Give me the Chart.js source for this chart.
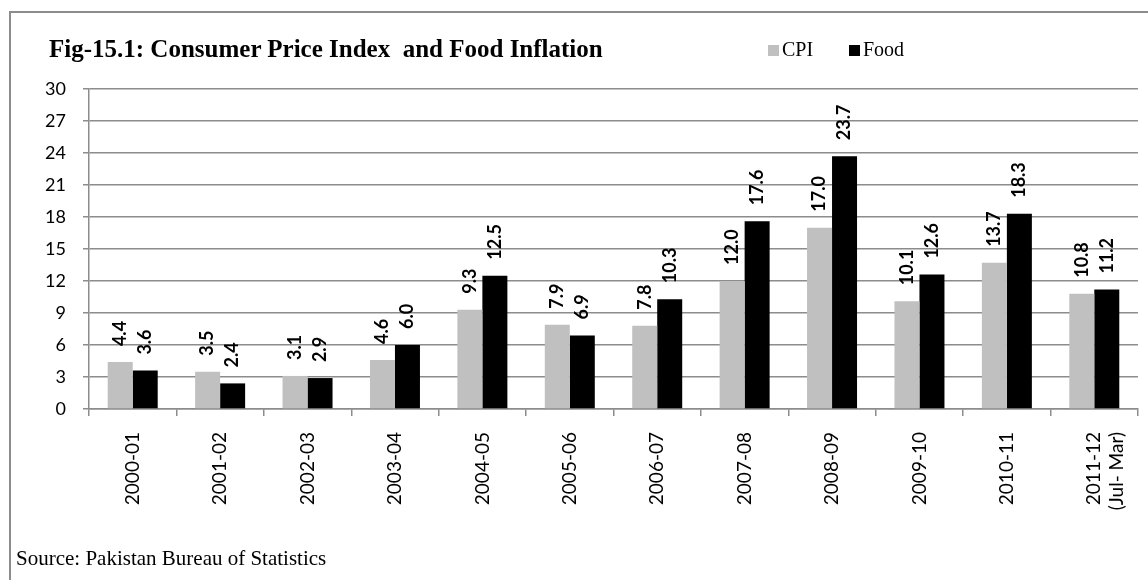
<!DOCTYPE html>
<html>
<head>
<meta charset="utf-8">
<title>Fig-15.1: Consumer Price Index and Food Inflation</title>
<script src="https://cdn.jsdelivr.net/npm/chart.js@4.4.0/dist/chart.umd.min.js"></script>
<style>
    html, body { margin: 0; padding: 0; background: #fff; overflow: hidden; }
    #page { position: relative; width: 1148px; height: 580px; overflow: hidden; }
    #frame { position: absolute; left: 9px; top: 11px; width: 1200px; height: 700px; border: 2px solid #8c8c8c; }
    #chartBox { position: absolute; left: 0; top: 0; width: 1148px; height: 580px; }
    .title { position: absolute; left: 49px; top: 34px; font: bold 25px "Liberation Serif"; line-height: 30px; color: #000; white-space: pre; }
    .legend { position: absolute; top: 37px; font: 20px "Liberation Serif"; line-height: 24px; color: #000; }
    .legend span.box { display: inline-block; width: 11px; height: 11px; margin-right: 3px; }
    .source { position: absolute; left: 16px; top: 546px; font: 21px "Liberation Serif"; line-height: 24px; color: #000; }
</style>
</head>
<body>
<div id="page">
    <div id="frame"></div>
    <div id="chartBox"><canvas id="inflationChart"></canvas></div>
    <div class="title">Fig-15.1: Consumer Price Index  and Food Inflation</div>
    <div class="legend" style="left:768px"><span class="box" style="background:#c0c0c0"></span>CPI</div>
    <div class="legend" style="left:849px"><span class="box" style="background:#000"></span>Food</div>
    <div class="source">Source: Pakistan Bureau of Statistics</div>
</div>
<script>
// Data
const years = ['2000-01', '2001-02', '2002-03', '2003-04', '2004-05', '2005-06',
               '2006-07', '2007-08', '2008-09', '2009-10', '2010-11', ['2011-12', '(Jul- Mar)']];
const cpiValues = [4.4, 3.5, 3.1, 4.6, 9.3, 7.9, 7.8, 12.0, 17.0, 10.1, 13.7, 10.8];
const foodValues = [3.6, 2.4, 2.9, 6.0, 12.5, 6.9, 10.3, 17.6, 23.7, 12.6, 18.3, 11.2];
const yTicks = [0, 3, 6, 9, 12, 15, 18, 21, 24, 27, 30];

const axisGray = '#8c8c8c';

// Rotated value labels above each bar
const barLabels = {
    id: 'barLabels',
    afterDatasetsDraw(chart) {
        const ctx = chart.ctx;
        ctx.save();
        ctx.font = 'bold 18px Lato';
        ctx.fillStyle = '#000';
        ctx.textAlign = 'left';
        ctx.textBaseline = 'middle';
        chart.data.datasets.forEach((ds, i) => {
            chart.getDatasetMeta(i).data.forEach((bar, j) => {
                ctx.save();
                ctx.translate(bar.x, bar.y - 16);
                ctx.rotate(-Math.PI / 2);
                ctx.fillText(ds.data[j].toFixed(1), 0, 0);
                ctx.restore();
            });
        });
        ctx.restore();
    }
};

const ctx = document.getElementById('inflationChart').getContext('2d');
new Chart(ctx, {
    type: 'bar',
    data: {
        labels: years,
        datasets: [
            { label: 'CPI', data: cpiValues, backgroundColor: '#c0c0c0' },
            { label: 'Food', data: foodValues, backgroundColor: '#000000' }
        ]
    },
    options: {
        responsive: true,
        maintainAspectRatio: false,
        animation: false,
        layout: { padding: { left: 0, top: 89, right: 10, bottom: 0 } },
        datasets: { bar: { categoryPercentage: 0.572, barPercentage: 1.0 } },
        plugins: {
            legend: { display: false },
            tooltip: { enabled: false }
        },
        scales: {
            y: {
                min: 0,
                max: 30,
                afterBuildTicks: (scale) => { scale.ticks = yTicks.map(v => ({ value: v })); },
                afterFit: (scale) => { scale.width = 89; },
                ticks: { color: '#000', font: { family: 'Lato', size: 18 }, padding: 17 },
                grid: { color: axisGray, lineWidth: 1.5, tickLength: 6 },
                border: { color: axisGray, width: 1.5 }
            },
            x: {
                afterFit: (scale) => {
                    scale.height = 171;
                    // keep the plot edges fixed, don't pad for the last label
                    scale.paddingLeft = 0;
                    scale.paddingRight = 0;
                },
                ticks: { color: '#000', font: { family: 'Lato', size: 19 }, minRotation: 90, maxRotation: 90, padding: 16 },
                grid: { drawOnChartArea: false, color: axisGray, lineWidth: 1.5, tickLength: 7, offset: true },
                border: { color: axisGray, width: 1.5 }
            }
        }
    },
    plugins: [barLabels]
});
</script>
</body>
</html>
